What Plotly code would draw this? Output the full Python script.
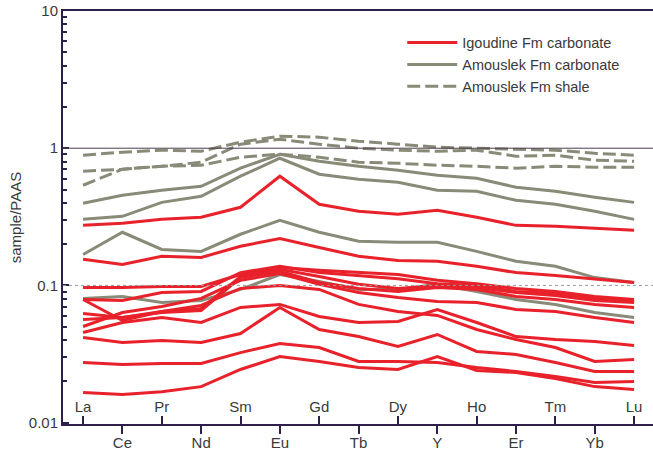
import plotly.graph_objects as go

# REE order (PAAS-normalised spider diagram)
elements = ["La", "Ce", "Pr", "Nd", "Sm", "Eu", "Gd", "Tb", "Dy", "Y", "Ho", "Er", "Tm", "Yb", "Lu"]

# Igoudine Fm carbonate (red)
igoudine = [
    [0.274, 0.284, 0.303, 0.314, 0.371, 0.625, 0.390, 0.347, 0.330, 0.353, 0.314, 0.274, 0.270, 0.261, 0.252],
    [0.155, 0.142, 0.163, 0.160, 0.193, 0.220, 0.189, 0.163, 0.152, 0.150, 0.138, 0.124, 0.118, 0.111, 0.105],
    [0.0967, 0.0967, 0.0983, 0.0983, 0.120, 0.135, 0.129, 0.124, 0.120, 0.109, 0.103, 0.0951, 0.0904, 0.0831, 0.0790],
    [0.0790, 0.0777, 0.0889, 0.0904, 0.124, 0.138, 0.124, 0.118, 0.112, 0.103, 0.100, 0.0904, 0.0874, 0.0804, 0.0764],
    [0.0790, 0.0555, 0.0646, 0.0679, 0.116, 0.131, 0.116, 0.102, 0.0951, 0.100, 0.0967, 0.0889, 0.0845, 0.0777, 0.0751],
    [0.0625, 0.0584, 0.0635, 0.0657, 0.114, 0.127, 0.105, 0.0951, 0.0904, 0.0967, 0.0935, 0.0831, 0.0790, 0.0727, 0.0691],
    [0.0502, 0.0635, 0.0703, 0.0804, 0.109, 0.122, 0.102, 0.0889, 0.0818, 0.0764, 0.0751, 0.0668, 0.0646, 0.0584, 0.0537],
    [0.0454, 0.0537, 0.0584, 0.0537, 0.0691, 0.0727, 0.0594, 0.0537, 0.0546, 0.0668, 0.0537, 0.0424, 0.0403, 0.0390, 0.0365],
    [0.0565, 0.0584, 0.0646, 0.0715, 0.0951, 0.100, 0.0935, 0.0727, 0.0646, 0.0604, 0.0477, 0.0403, 0.0353, 0.0279, 0.0288],
    [0.0417, 0.0384, 0.0397, 0.0384, 0.0446, 0.0691, 0.0477, 0.0424, 0.0359, 0.0439, 0.0330, 0.0314, 0.0274, 0.0236, 0.0236],
    [0.0274, 0.0265, 0.0270, 0.0270, 0.0324, 0.0377, 0.0353, 0.0279, 0.0279, 0.0274, 0.0252, 0.0236, 0.0217, 0.0196, 0.0199],
    [0.0166, 0.0160, 0.0168, 0.0183, 0.0244, 0.0303, 0.0279, 0.0252, 0.0244, 0.0303, 0.0240, 0.0232, 0.0210, 0.0183, 0.0174],
]

# Amouslek Fm carbonate (grey, solid)
amouslek_carb = [
    [0.397, 0.454, 0.494, 0.528, 0.715, 0.904, 0.804, 0.739, 0.691, 0.635, 0.604, 0.519, 0.485, 0.439, 0.403],
    [0.303, 0.319, 0.403, 0.446, 0.625, 0.845, 0.646, 0.594, 0.565, 0.494, 0.485, 0.417, 0.390, 0.347, 0.303],
    [0.168, 0.244, 0.183, 0.177, 0.236, 0.298, 0.244, 0.210, 0.206, 0.206, 0.177, 0.150, 0.138, 0.114, 0.105],
    [0.0804, 0.0831, 0.0751, 0.0777, 0.0935, 0.120, 0.107, 0.0935, 0.0935, 0.102, 0.0904, 0.0790, 0.0727, 0.0635, 0.0584],
]

# Amouslek Fm shale (grey, dashed)
amouslek_shale = [
    [0.889, 0.935, 0.967, 0.951, 1.106, 1.224, 1.203, 1.125, 1.070, 1.017, 1.000, 0.983, 0.967, 0.919, 0.889],
    [0.537, 0.703, 0.739, 0.790, 1.070, 1.163, 1.070, 1.000, 0.967, 0.951, 0.967, 0.874, 0.889, 0.817, 0.804],
    [0.679, 0.703, 0.739, 0.751, 0.860, 0.904, 0.860, 0.790, 0.777, 0.751, 0.739, 0.715, 0.739, 0.727, 0.727],
]

RED = "#e8212b"
GREY = "#8a8a78"
AXIS = "#2e1f4a"
TXT = "#3a3a3a"
FONT = "Arial, Liberation Sans, sans-serif"

fig = go.Figure()

for i, s in enumerate(amouslek_shale):
    fig.add_trace(go.Scatter(
        x=elements, y=s, mode="lines", name="Amouslek Fm shale",
        line=dict(color=GREY, width=3, dash="13px,5px"),
        legendgroup="shale", showlegend=(i == 0), legendrank=3,
    ))

for i, s in enumerate(amouslek_carb):
    fig.add_trace(go.Scatter(
        x=elements, y=s, mode="lines", name="Amouslek Fm carbonate",
        line=dict(color=GREY, width=3),
        legendgroup="carb", showlegend=(i == 0), legendrank=2,
    ))

for i, s in enumerate(igoudine):
    fig.add_trace(go.Scatter(
        x=elements, y=s, mode="lines", name="Igoudine Fm carbonate",
        line=dict(color=RED, width=3),
        legendgroup="igo", showlegend=(i == 0), legendrank=1,
    ))

# reference lines at 1 and 0.1
fig.add_shape(type="line", xref="paper", yref="y", x0=0, x1=1, y0=1, y1=1,
              line=dict(color="#4a3f4f", width=1))
fig.add_shape(type="line", xref="paper", yref="y", x0=0, x1=1, y0=0.1, y1=0.1,
              line=dict(color="#9a9a9a", width=1, dash="dot"))

minor_vals = [m * 10 ** e for e in (-2, -1, 0) for m in range(2, 10)]

odd = elements[1::2]
even_idx = list(range(0, len(elements), 2))

fig.update_layout(
    width=653, height=454,
    margin=dict(l=63, r=0, t=11, b=30),
    plot_bgcolor="white", paper_bgcolor="white",
    font=dict(family=FONT, size=15, color=TXT),
    showlegend=True,
    legend=dict(x=0.575, y=0.962, xanchor="left", yanchor="top",
                bgcolor="rgba(0,0,0,0)", font=dict(size=14.5, color=TXT),
                itemwidth=50, tracegroupgap=0),
    xaxis=dict(
        type="category", categoryorder="array", categoryarray=elements,
        range=[-0.51, 14.48], showgrid=False, zeroline=False,
        showline=True, linecolor=AXIS, linewidth=2, mirror=True,
        ticks="outside", ticklen=8, tickwidth=2, tickcolor=AXIS,
        tickvals=odd, ticktext=odd, ticklabelstandoff=-4,
        tickfont=dict(size=15, color=TXT),
    ),
    # second x axis drawn on the bottom line but facing up, for La, Pr, Sm, ...
    xaxis2=dict(
        overlaying="x", anchor="free", position=0, side="top", type="linear",
        range=[-0.51, 14.48], showgrid=False, zeroline=False, showline=False,
        ticks="outside", ticklen=8, tickwidth=2, tickcolor=AXIS,
        tickvals=even_idx, ticktext=elements[0::2], ticklabelstandoff=-2,
        tickfont=dict(size=15, color=TXT),
    ),
    yaxis=dict(
        type="log", range=[-2.01, 1], showgrid=False, zeroline=False,
        showline=True, linecolor=AXIS, linewidth=2,
        ticks="inside", ticklen=6, tickwidth=2, tickcolor=AXIS,
        tickvals=[0.01, 0.1, 1, 10], ticktext=["0.01", "0.1", "1", "10"],
        minor=dict(ticks="inside", ticklen=4, tickwidth=2, tickcolor=AXIS, tickvals=minor_vals),
        tickfont=dict(size=15, color=TXT),
        title=dict(text="sample/PAAS", font=dict(size=15, color=TXT), standoff=4),
        automargin=False,
    ),
)

# dummy trace so xaxis2 renders its ticks
fig.add_trace(go.Scatter(x=[None], y=[None], xaxis="x2", yaxis="y", showlegend=False, hoverinfo="skip"))

# drop the browser's default body margin so the figure sits at the page origin
fig.write_html("out.html", config={"displayModeBar": False},
               post_script="document.body.style.margin='0';")
